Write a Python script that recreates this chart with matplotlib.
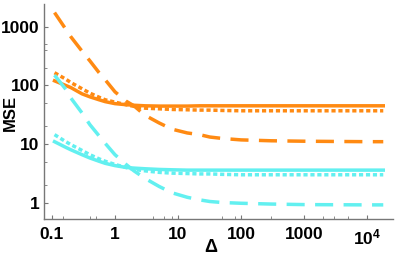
import matplotlib
matplotlib.use("Agg")
import matplotlib.pyplot as plt
from matplotlib.ticker import FixedLocator, NullFormatter

x_vals = [0.11, 0.166, 0.2, 0.3, 0.4, 0.56, 0.7, 1, 1.5, 2, 3, 5, 8, 14, 22, 32,
          50, 100, 300, 1000, 3000, 10000, 18000]

orange_dashed = [1750, 910, 675, 385, 263, 165, 125, 78, 54, 45, 31, 23, 18, 15.5, 14.5, 13.2,
                 12.5, 11.8, 11.4, 11.2, 11.1, 11.0, 11.0]
orange_solid = [120, 100, 92, 72, 64, 57, 53, 49, 47, 46, 45, 44.5, 44.5, 44.5, 45, 45,
                45, 45, 45, 45, 45, 45, 45]
orange_dotted = [165, 128, 112, 88, 74, 63, 57, 52, 47, 44, 41, 40, 39, 38.5, 38, 38,
                 37.5, 37, 37, 37, 37, 37, 37]

cyan_dashed = [150, 86, 61, 34, 21.5, 13.8, 10.3, 6.6, 4.5, 3.5, 2.6, 1.9, 1.48, 1.24, 1.12, 1.05,
               1.01, 0.98, 0.95, 0.93, 0.925, 0.92, 0.92]
cyan_solid = [11, 8.8, 8, 6.6, 5.8, 5.1, 4.7, 4.3, 4.0, 3.9, 3.8, 3.7, 3.65, 3.6, 3.6, 3.6,
              3.6, 3.6, 3.6, 3.6, 3.6, 3.6, 3.6]
cyan_dotted = [14.5, 11, 9.8, 7.8, 6.6, 5.6, 5.1, 4.5, 4.0, 3.7, 3.5, 3.3, 3.2, 3.15, 3.1, 3.1,
               3.05, 3.0, 3.0, 3.0, 3.0, 3.0, 3.0]

x_ticks = [0.1, 1, 10, 100, 1000, 10000]
x_tick_labels = ["0.1", "1", "10", "100", "1000", r"$\mathbf{10^{4}}$"]
y_ticks = [1, 10, 100, 1000]
y_tick_labels = ["1", "10", "100", "1000"]

orange = "#FF8A12"
cyan = "#62F0F0"

plt.rcParams['font.family'] = ['Liberation Sans', 'DejaVu Sans']
plt.rcParams['mathtext.fontset'] = 'custom'
plt.rcParams['mathtext.rm'] = 'Liberation Sans'
plt.rcParams['mathtext.bf'] = 'Liberation Sans:bold'

fig = plt.figure(figsize=(3.99, 2.60), dpi=100)
ax = fig.add_axes([0.110, 0.158, 0.875, 0.827])

lw = 2.5
dash = (0, (5.2, 3.0))
dot = (0, (1.2, 0.8))

ax.plot(x_vals, orange_dashed, color=orange, lw=lw, linestyle=dash, dash_capstyle='butt')
ax.plot(x_vals, orange_solid, color=orange, lw=lw)
ax.plot(x_vals, orange_dotted, color=orange, lw=lw, linestyle=dot, dash_capstyle='butt')
ax.plot(x_vals, cyan_dashed, color=cyan, lw=lw, linestyle=dash, dash_capstyle='butt')
ax.plot(x_vals, cyan_solid, color=cyan, lw=lw)
ax.plot(x_vals, cyan_dotted, color=cyan, lw=lw, linestyle=dot, dash_capstyle='butt')

ax.set_xscale('log')
ax.set_yscale('log')
ax.set_xlim(0.0746, 25700)
ax.set_ylim(0.53, 2460)

for s in ['top', 'right']:
    ax.spines[s].set_visible(False)
for s in ['left', 'bottom']:
    ax.spines[s].set_color('#777777')
    ax.spines[s].set_linewidth(1.0)

ax.xaxis.set_major_locator(FixedLocator(x_ticks))
ax.set_xticklabels(x_tick_labels)
ax.yaxis.set_major_locator(FixedLocator(y_ticks))
ax.set_yticklabels(y_tick_labels)

x_minor = [0.15, 0.4, 0.5, 4, 6, 8, 10, 50, 80, 300, 2000, 3000, 5000]
y_minor = [2, 5, 20, 50, 200, 400, 500]
ax.xaxis.set_minor_locator(FixedLocator(x_minor))
ax.yaxis.set_minor_locator(FixedLocator(y_minor))
ax.xaxis.set_minor_formatter(NullFormatter())
ax.yaxis.set_minor_formatter(NullFormatter())

ax.tick_params(axis='both', which='major', direction='in', length=3, width=0.8,
               color='#777777', labelsize=12.5)
ax.tick_params(axis='x', which='major', pad=6)
ax.tick_params(axis='y', which='major', pad=3)
ax.tick_params(axis='both', which='minor', direction='in', length=2, width=0.6,
               color='#777777')
for lab in ax.get_xticklabels() + ax.get_yticklabels():
    lab.set_fontweight('bold')

fig.text(211 / 399, 1 - 248 / 260, "Δ", fontsize=13, fontweight='bold',
         ha='center', va='center')
fig.text(10 / 399, 1 - 113 / 260, "MSE", fontsize=12, fontweight='bold',
         ha='center', va='center', rotation=90)

fig.savefig("out.png", dpi=100)
